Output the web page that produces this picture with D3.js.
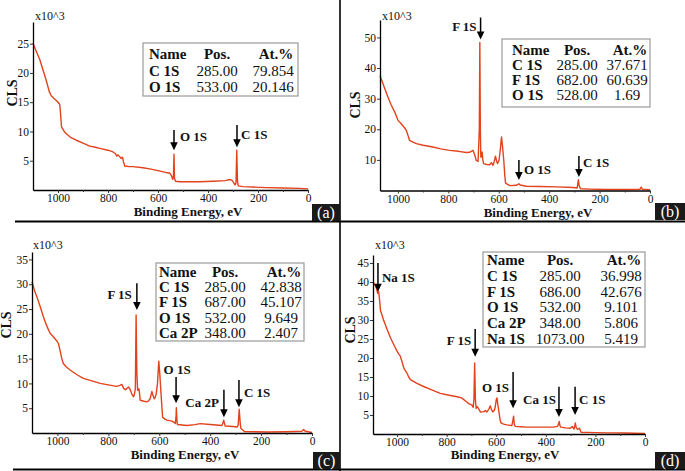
<!DOCTYPE html>
<html><head><meta charset="utf-8">
<script src="https://cdn.jsdelivr.net/npm/d3@7/dist/d3.min.js"></script>
<style>
body{margin:0;background:#fff}
svg{display:block}
text{font-family:"Liberation Serif","Times New Roman",serif;fill:#111}
</style>
</head><body>
<svg id="chart" width="685" height="471"></svg>
<script>
// ---------- DATA (binding energy eV, counts x10^3) ----------
const spectrumA = [[1100,25.1],[1090,24.0],[1073,22.3],[1060,20.5],[1047,18.7],[1035,16.8],[1027,16.1],[1015,15.6],[1007,15.3],[998,14.9],[993,14.6],[990,13.2],[986,10.8],[975,10.0],[967,9.6],[950,9.0],[927,8.5],[900,8.0],[873,7.5],[850,7.3],[833,7.1],[800,6.8],[780,6.5],[770,6.2],[765,5.8],[760,6.0],[753,5.7],[748,5.4],[742,5.6],[738,4.8],[733,4.1],[715,4.0],[700,4.0],[660,3.8],[633,3.6],[600,3.3],[570,3.0],[553,2.9],[547,2.5],[541,1.8],[538,2.5],[536,6.1],[534,2.0],[530,1.5],[513,1.4],[470,1.4],[433,1.4],[380,1.5],[330,1.6],[313,1.8],[305,1.7],[298,1.3],[292,0.85],[288,1.2],[285,6.8],[282,1.5],[279,0.7],[260,0.57],[220,0.5],[167,0.4],[100,0.33],[33,0.28],[0,0.2]];
const spectrumB = [[1071,37.5],[1066,36.4],[1053,33.5],[1040,30.6],[1027,28.0],[1013,25.7],[1000,23.0],[987,21.8],[974,20.5],[967,19.7],[960,18.0],[954,16.4],[940,15.8],[927,15.3],[900,14.8],[861,14.2],[830,13.6],[795,13.1],[760,12.8],[728,12.4],[715,12.5],[709,12.8],[702,13.1],[695,11.5],[689,9.8],[682,9.5],[677,20],[675,48.4],[673,20],[671,10.9],[668,11.0],[666,12.6],[663,10.0],[660,8.8],[648,8.5],[636,8.4],[629,9.1],[623,8.2],[618,9.5],[613,11.2],[608,9.5],[605,8.8],[599,9.8],[593,14],[589,17.5],[585,14.5],[580,9.8],[576,5.0],[573,2.4],[556,1.6],[530,1.7],[520,2.2],[515,1.8],[490,1.4],[437,1.3],[370,1.2],[305,1.0],[289,0.8],[286,2.5],[284,3.5],[281,1.5],[275,0.55],[240,0.45],[172,0.35],[100,0.35],[40,0.4],[35,1.1],[30,0.4],[0,0.3]];
const spectrumC = [[1100,30.5],[1090,28.7],[1081,27.5],[1068,25.5],[1055,23.4],[1042,21.6],[1029,20.1],[1018,19.5],[1010,19.0],[1000,18.4],[996,18.0],[990,16.7],[983,15.0],[977,14.0],[965,13.3],[950,12.7],[925,11.8],[898,11.0],[865,10.5],[832,10.0],[800,9.7],[767,9.4],[755,9.6],[747,9.8],[740,9.0],[734,8.7],[727,9.0],[721,9.3],[714,8.7],[708,7.9],[701,7.3],[697,8.0],[694,9.0],[691,23.8],[688,12],[685,8.6],[680,8.9],[677,7.8],[675,6.6],[660,6.4],[649,6.3],[642,6.5],[636,6.9],[632,7.8],[629,8.4],[625,7.6],[620,6.9],[616,7.2],[612,7.9],[607,10],[602,14.5],[598,12],[594,8.6],[590,5.5],[587,3.2],[578,2.8],[570,2.6],[550,2.4],[540,2.1],[537,1.9],[534,3.5],[533,5.1],[530,2.0],[528,1.7],[510,1.6],[491,1.5],[460,1.7],[439,1.9],[400,1.7],[354,1.5],[350,2.0],[347,2.6],[343,1.8],[341,1.4],[310,1.3],[295,1.2],[290,1.6],[286,4.8],[282,2.0],[279,0.9],[270,0.5],[266,0.3],[220,0.25],[177,0.2],[100,0.25],[40,0.35],[33,0.7],[28,0.4],[10,0.2],[0,0.1]];
const spectrumD = [[1097,40.0],[1094,39.7],[1088,39.0],[1083,38.3],[1078,37.0],[1075,37.6],[1073,36.8],[1070,35.0],[1067,32.5],[1060,31.2],[1054,29.9],[1040,27.5],[1027,25.4],[1013,23.5],[1000,21.8],[993,21.0],[987,20.5],[980,19.0],[973,17.4],[966,16.6],[960,16.0],[953,15.0],[946,14.3],[920,13.3],[893,12.5],[860,11.6],[826,10.7],[790,10.2],[758,9.8],[740,9.5],[732,9.1],[720,8.5],[711,8.0],[698,7.6],[693,7.0],[690,9.0],[687,18.7],[684,9.0],[681,6.7],[677,7.2],[675,7.1],[664,5.8],[650,5.9],[644,6.2],[638,5.8],[630,6.5],[624,7.4],[619,6.4],[614,5.8],[608,6.2],[604,7.1],[600,9.0],[597,9.5],[593,7.5],[589,5.8],[585,4.0],[581,2.9],[570,2.6],[557,2.4],[537,2.2],[533,3.5],[530,4.7],[527,2.5],[523,2.0],[500,1.9],[477,1.8],[420,1.8],[369,1.8],[353,2.0],[348,2.8],[346,3.3],[343,2.2],[340,1.8],[320,1.6],[302,1.5],[296,1.8],[293,2.0],[289,1.5],[286,1.3],[283,2.2],[281,2.9],[278,1.8],[272,1.2],[266,1.4],[264,1.5],[261,1.0],[258,0.45],[200,0.35],[154,0.3],[80,0.25],[0,0.15]];

const xTicks = [0,200,400,600,800,1000];
const xMinorTicks = [100,300,500,700,900];
const yTicksA = [5,10,15,20,25];
const yTicksB = [10,20,30,40,50];
const yTicksC = [5,10,15,20,25,30,35];
const yTicksD = [5,10,15,20,25,30,35,40,45];

const tableHeader = ["Name","Pos.","At.%"];
const namesA = ["C 1S","O 1S"],               posA = ["285.00","533.00"],                 atA = ["79.854","20.146"];
const namesB = ["C 1S","F 1S","O 1S"],        posB = ["285.00","682.00","528.00"],        atB = ["37.671","60.639","1.69"];
const namesC = ["C 1S","F 1S","O 1S","Ca 2P"], posC = ["285.00","687.00","532.00","348.00"], atC = ["42.838","45.107","9.649","2.407"];
const namesD = ["C 1S","F 1S","O 1S","Ca 2P","Na 1S"], posD = ["285.00","686.00","532.00","348.00","1073.00"], atD = ["36.998","42.676","9.101","5.806","5.419"];

// peak markers: label, energy, arrow top / tip (counts x10^3)
const arrowsA = [{label:"O 1S",e:536,top:10.25,tip:6.8},{label:"C 1S",e:284,top:11.1,tip:7.3}];
const arrowsB = [{label:"F 1S",e:672,top:56.5,tip:49.3},{label:"O 1S",e:520,top:10,tip:3.4},{label:"C 1S",e:282,top:11.3,tip:4.4}];
const arrowsC = [{label:"F 1S",e:688,top:30.2,tip:24.8},{label:"O 1S",e:534,top:11.3,tip:6.0},{label:"Ca 2P",e:346,top:8.7,tip:3.2},{label:"C 1S",e:287,top:10.7,tip:5.2}];
const arrowsD = [{label:"Na 1S",e:1077,top:45,tip:37.4},{label:"F 1S",e:685,top:27.6,tip:20.3},{label:"O 1S",e:532,top:16.3,tip:6.8},{label:"Ca 1S",e:347,top:12.4,tip:4.5},{label:"C 1S",e:282,top:12.4,tip:5}];

// ---------- LAYOUT ----------
const panels = [
 {tag:"(a)", data:spectrumA, eMax:1100, vMax:28.7, yTicks:yTicksA, names:namesA, pos:posA, at:atA, arrows:arrowsA,
  lab:[[6,11,"start"],[4,14,"start"]],
  L:{x0:33,x1:308,y0:190,y1:22, cls:[12,93], mult:[35,20], xlab:[188,215.5], box:[312,204,28,17],
     tbl:{x:143,y:43,w:155,h:53,name:149,pos:217,at:273,base:59,step:16.5}}},
 {tag:"(b)", data:spectrumB, eMax:1071, vMax:55.7, yTicks:yTicksB, names:namesB, pos:posB, at:atB, arrows:arrowsB,
  lab:[[-4,13,"end"],[5,14,"start"],[4,11,"start"]],
  L:{x0:380,x1:650,y0:190.5,y1:20, cls:[355,105], mult:[382,20], xlab:[538,217], box:[655,203,30,17],
     tbl:{x:502,y:39,w:148,h:68,name:512,pos:577,at:627,base:55,step:15}}},
 {tag:"(c)", data:spectrumC, eMax:1100, vMax:36.5, yTicks:yTicksC, names:namesC, pos:posC, at:atC, arrows:arrowsC,
  lab:[[-5,16,"end"],[1,-3,"middle"],[-5,17,"end"],[5,17,"start"]],
  L:{x0:32,x1:312,y0:433,y1:252, cls:[6,325], mult:[33,249], xlab:[185,459], box:[313,452,27,17],
     tbl:{x:156,y:263,w:148,h:78,name:159,pos:225,at:281,base:277,step:15.2}}},
 {tag:"(d)", data:spectrumD, eMax:1097, vMax:47.1, yTicks:yTicksD, names:namesD, pos:posD, at:atD, arrows:arrowsD,
  lab:[[4,19,"start"],[-4,16,"end"],[-4,20,"end"],[-3,17,"end"],[4,17,"start"]],
  L:{x0:373,x1:645,y0:434,y1:255, cls:[350,330], mult:[375,249], xlab:[505,459], box:[655,452,30,17],
     tbl:{x:483,y:252,w:162,h:95,name:487,pos:560,at:621,base:265,step:15.8}}}
];

const svg = d3.select("#chart");
svg.append("rect").attr("width",685).attr("height",471).attr("fill","#fff");

// frame lines
svg.append("line").attr("x1",340).attr("x2",340).attr("y1",0).attr("y2",471).attr("stroke","#000").attr("stroke-width",1.6);
svg.append("line").attr("x1",15).attr("x2",685).attr("y1",221.5).attr("y2",221.5).attr("stroke","#000").attr("stroke-width",2);
svg.append("line").attr("x1",13).attr("x2",685).attr("y1",469.5).attr("y2",469.5).attr("stroke","#000").attr("stroke-width",2.2);

panels.forEach(p => {
  const L = p.L;
  const g = svg.append("g");
  const x = d3.scaleLinear().domain([p.eMax,0]).range([L.x0,L.x1]);
  const y = d3.scaleLinear().domain([0,p.vMax]).range([L.y0,L.y1]);

  // spectrum
  g.append("path").datum(p.data)
    .attr("d", d3.line().x(d=>x(d[0])).y(d=>y(d[1])))
    .attr("fill","none").attr("stroke","#e3421c").attr("stroke-width",1.4).attr("stroke-linejoin","round");

  // axes
  const xa = g.append("g").attr("transform",`translate(0,${L.y0})`)
    .call(d3.axisBottom(x).tickValues(xTicks).tickSize(3).tickSizeOuter(0).tickPadding(1).tickFormat(d3.format("d")));
  g.append("g").attr("transform",`translate(0,${L.y0})`)
    .call(d3.axisBottom(x).tickValues(xMinorTicks).tickSize(2).tickFormat(""))
    .call(s=>s.select(".domain").remove());
  const ya = g.append("g").attr("transform",`translate(${L.x0},0)`)
    .call(d3.axisLeft(y).tickValues(p.yTicks).tickSize(3).tickSizeOuter(0).tickPadding(1));
  [xa,ya].forEach(a=>{
    a.selectAll("text").style("font-family",'"Liberation Serif",serif').style("font-size","11.5px").attr("fill","#222");
    a.select(".domain").attr("stroke","#000").attr("stroke-width",1.3);
  });
  g.selectAll(".tick line").attr("stroke","#333");

  // axis titles
  g.append("text").attr("transform",`translate(${L.cls[0]},${L.cls[1]}) rotate(-90)`)
    .attr("text-anchor","middle").attr("dy","0.35em").attr("font-weight","bold").attr("font-size",14).text("CLS");
  g.append("text").attr("x",L.mult[0]).attr("y",L.mult[1]).attr("font-size",12).text("x10^3");
  g.append("text").attr("x",L.xlab[0]).attr("y",L.xlab[1]).attr("text-anchor","middle")
    .attr("font-weight","bold").attr("font-size",13).text("Binding Energy, eV");

  // arrows
  p.arrows.forEach((a,i)=>{
    const ax = x(a.e), yt = y(a.top), yp = y(a.tip);
    g.append("line").attr("x1",ax).attr("x2",ax).attr("y1",yt).attr("y2",yp-6).attr("stroke","#000").attr("stroke-width",1.5);
    g.append("path").attr("d",`M${ax-3.8},${yp-8}L${ax+3.8},${yp-8}L${ax},${yp}Z`).attr("fill","#000");
    const lb = p.lab[i];
    g.append("text").attr("x",ax+lb[0]).attr("y",yt+lb[1]).attr("text-anchor",lb[2])
      .attr("font-weight","bold").attr("font-size",13).text(a.label);
  });

  // table
  const T = L.tbl;
  g.append("rect").attr("x",T.x).attr("y",T.y).attr("width",T.w).attr("height",T.h)
    .attr("fill","#fff").attr("stroke","#9a9a9a").attr("stroke-width",1.2);
  const cols = [[T.name,"start"],[T.pos,"middle"],[T.at,"middle"]];
  tableHeader.forEach((h,j)=>{
    g.append("text").attr("x",cols[j][0] + (j===2?3:0)).attr("y",T.base).attr("text-anchor",cols[j][1])
      .attr("font-weight","bold").attr("font-size",15).text(h);
  });
  p.names.forEach((n,i)=>{
    const yy = T.base + (i+1)*T.step;
    g.append("text").attr("x",T.name).attr("y",yy).attr("font-weight","bold").attr("font-size",15).text(n);
    g.append("text").attr("x",T.pos).attr("y",yy).attr("text-anchor","middle").attr("font-size",15).text(p.pos[i]);
    g.append("text").attr("x",T.at).attr("y",yy).attr("text-anchor","middle").attr("font-size",15).text(p.at[i]);
  });

  // panel tag
  const B = L.box;
  g.append("rect").attr("x",B[0]).attr("y",B[1]).attr("width",B[2]).attr("height",B[3]).attr("fill","#1a1a1a");
  g.append("text").attr("x",B[0]+B[2]/2).attr("y",B[1]+B[3]/2).attr("dy","0.35em").attr("text-anchor","middle")
    .attr("font-size",16).style("fill","#fff").text(p.tag);
});
</script>
</body></html>
